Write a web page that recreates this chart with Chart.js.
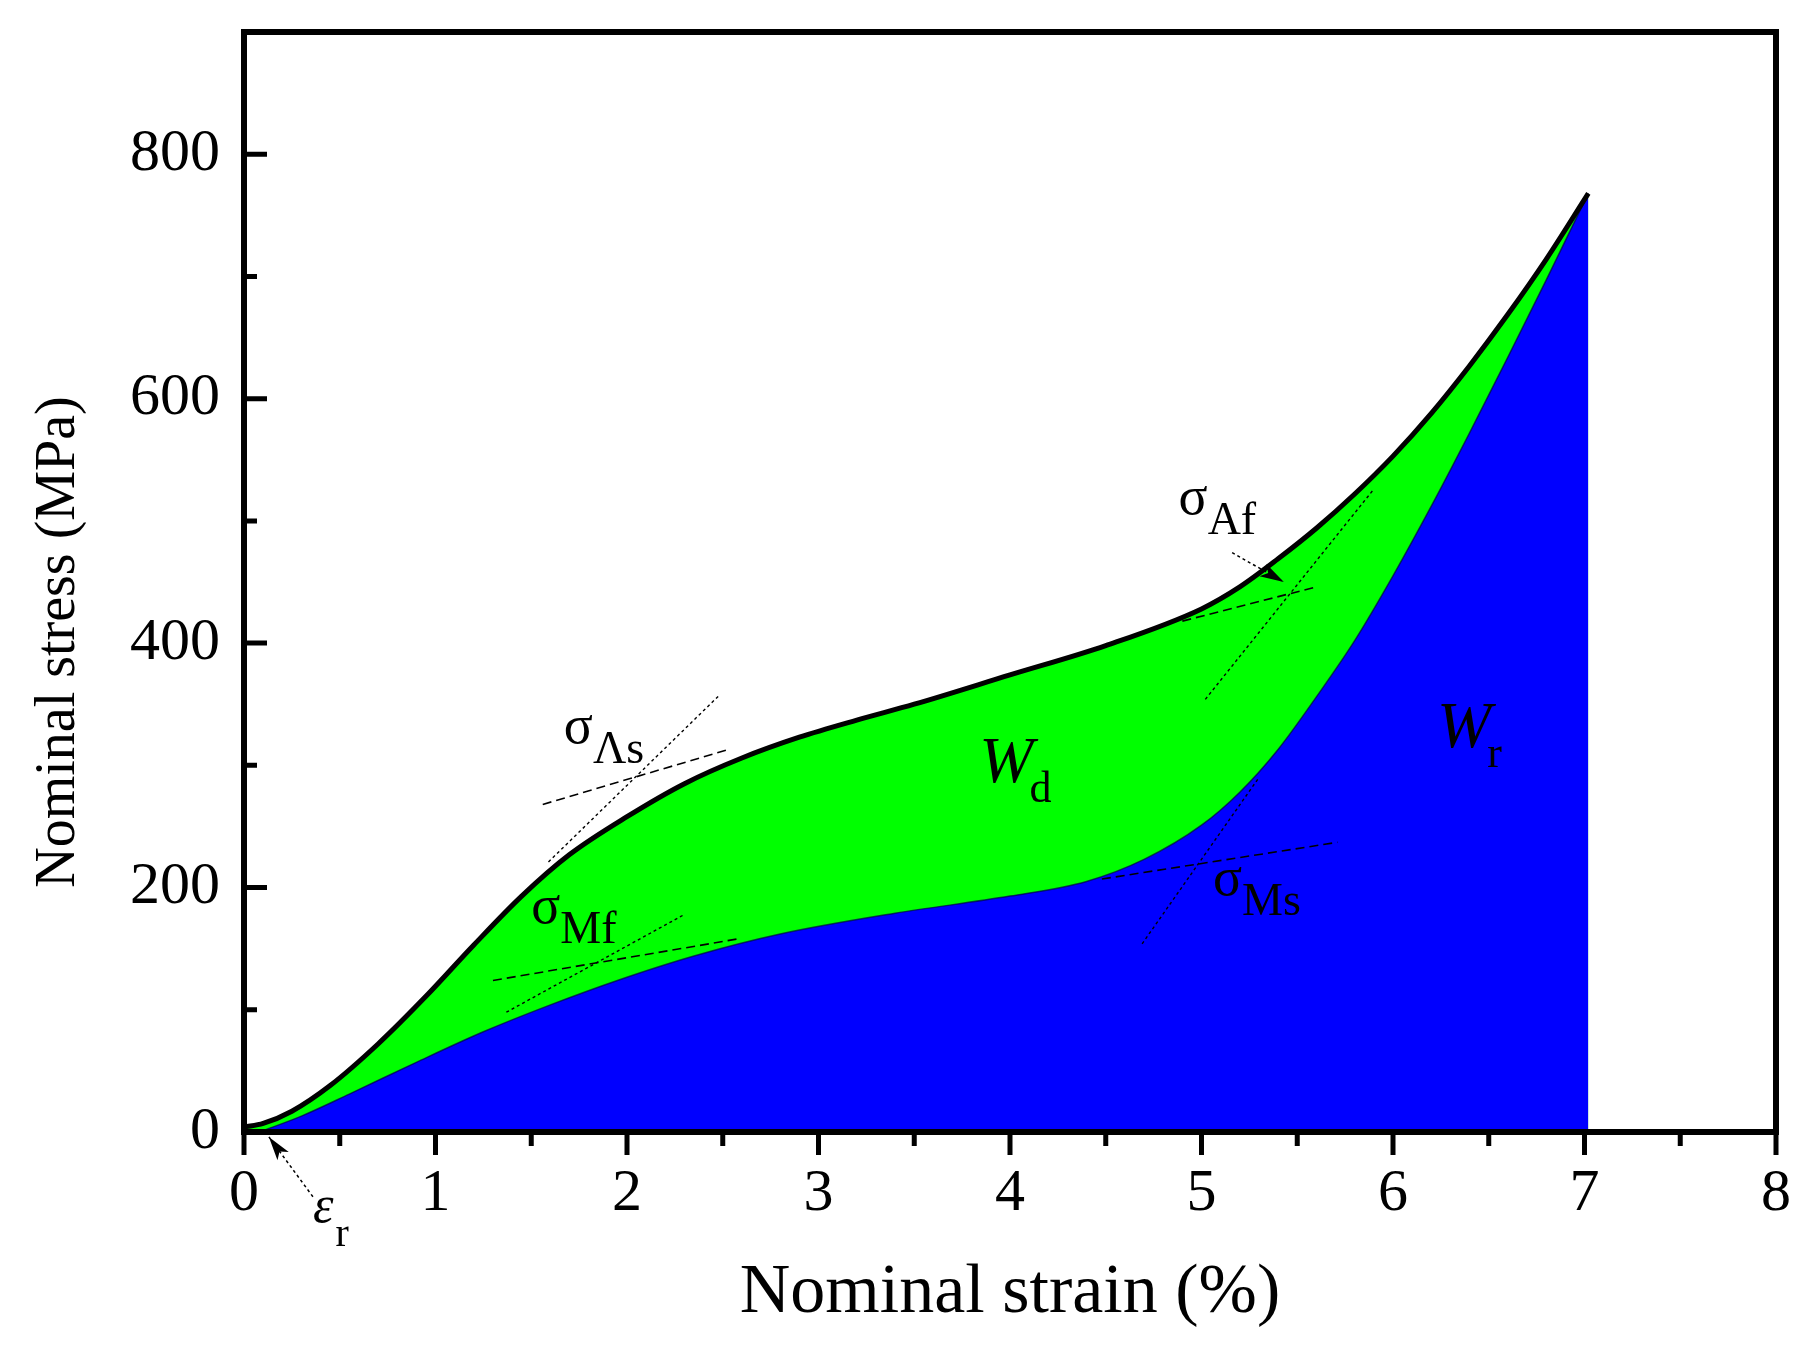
<!DOCTYPE html>
<html>
<head>
<meta charset="utf-8">
<script src="https://cdn.jsdelivr.net/npm/chart.js@4.4.0/dist/chart.umd.min.js"></script>
<style>
    html, body { margin: 0; padding: 0; background: #fff; }
    #wrap { width: 1808px; height: 1351px; }
</style>
</head>
<body>
<div id="wrap"><canvas id="chart-stress-strain" width="1808" height="1351"></canvas></div>
<script>
// loading branch (upper curve, black line)
const loadStrain = [0, 0.1, 0.25, 0.45, 0.7, 0.95, 1.2, 1.45, 1.7, 2.0, 2.3, 2.6, 2.9, 3.2, 3.5, 4.0, 4.5, 5.0, 5.2, 5.4, 5.6, 5.8, 6.0, 6.2, 6.4, 6.6, 6.8, 7.02];
const loadStress = [4, 7, 17, 38, 72, 111, 153, 193, 227, 258, 285, 306, 323, 337, 350, 374, 398, 428, 446, 469, 494, 522, 553, 588, 627, 669, 714, 768];

// unloading branch (green / blue boundary)
const unloadStrain = [0.08, 0.3, 0.55, 0.9, 1.25, 1.6, 1.95, 2.35, 2.8, 3.4, 4.0, 4.4, 4.7, 5.0, 5.2, 5.4, 5.6, 5.8, 6.0, 6.2, 6.4, 6.6, 6.8, 7.02];
const unloadStress = [0, 13, 31, 57, 82, 104, 124, 144, 162, 179, 193, 205, 223, 251, 278, 313, 356, 402, 455, 512, 572, 634, 697, 768];

// axis ticks
const xTickValues = [0, 1, 2, 3, 4, 5, 6, 7, 8];
const xMinorTicks = [0.5, 1.5, 2.5, 3.5, 4.5, 5.5, 6.5, 7.5];
const yTickValues = [0, 200, 400, 600, 800];
const yMinorTicks = [100, 300, 500, 700];

// tangent construction lines [start, end] in (strain, stress)
const shallowTangents = [
    [[1.56, 268], [2.53, 313]],
    [[1.30, 124], [2.58, 158]],
    [[4.90, 418], [5.60, 446]],
    [[4.48, 207], [5.71, 237]],
];
const steepTangents = [
    [[1.59, 221], [2.48, 357]],
    [[1.37, 98], [2.30, 178]],
    [[5.02, 354], [5.90, 526]],
    [[4.69, 154], [5.30, 290]],
];

// annotations
const stressLabels = [
    { sym: 'σ', sub: 'Λs', x: 1.67, y: 318 },
    { sym: 'σ', sub: 'Mf', x: 1.50, y: 171 },
    { sym: 'σ', sub: 'Af', x: 4.88, y: 506 },
    { sym: 'σ', sub: 'Ms', x: 5.06, y: 194 },
];
const energyLabels = [
    { sym: 'W', sub: 'd', x: 3.84, y: 286 },
    { sym: 'W', sub: 'r', x: 6.23, y: 315 },
];
const strainLabel = { sym: 'ε', sub: 'r', x: 0.36, y: -74 };
const arrows = [
    { from: [5.16, 474], to: [5.43, 450] },
    { from: [0.36, -53], to: [0.13, -4] },
];

const SERIF = '"Liberation Serif", "Times New Roman", serif';

const toPoints = (xs, ys) => xs.map((x, i) => ({ x: x, y: ys[i] }));
const segPoints = (seg) => seg.map(p => ({ x: p[0], y: p[1] }));

function drawSubText(ctx, px, py, sym, sub, symFont, subFont, gap, dy) {
    ctx.font = symFont;
    ctx.fillText(sym, px, py);
    let w = ctx.measureText(sym).width;
    ctx.font = subFont;
    ctx.fillText(sub, px + w + gap, py + dy);
}

function drawArrow(ctx, x0, y0, x1, y1) {
    ctx.save();
    ctx.lineWidth = 1.5;
    ctx.setLineDash([3, 3]);
    ctx.beginPath();
    ctx.moveTo(x0, y0);
    ctx.lineTo(x1, y1);
    ctx.stroke();
    ctx.setLineDash([]);
    let a = Math.atan2(y1 - y0, x1 - x0);
    ctx.translate(x1, y1);
    ctx.rotate(a);
    ctx.beginPath();
    ctx.moveTo(0, 0);
    ctx.lineTo(-24, -7);
    ctx.lineTo(-18, 0);
    ctx.lineTo(-24, 7);
    ctx.closePath();
    ctx.fill();
    ctx.restore();
}

const frameAndNotes = {
    id: 'frameAndNotes',
    afterDatasetsDraw(chart) {
        const { ctx, chartArea: a, scales: { x, y } } = chart;
        ctx.save();
        ctx.strokeStyle = '#000';
        ctx.fillStyle = '#000';

        // tick marks: x outward, y inward
        ctx.lineWidth = 5;
        ctx.beginPath();
        xTickValues.forEach(v => {
            let px = x.getPixelForValue(v);
            ctx.moveTo(px, a.bottom);
            ctx.lineTo(px, a.bottom + 23);
        });
        xMinorTicks.forEach(v => {
            let px = x.getPixelForValue(v);
            ctx.moveTo(px, a.bottom);
            ctx.lineTo(px, a.bottom + 14);
        });
        yTickValues.forEach(v => {
            let py = y.getPixelForValue(v);
            ctx.moveTo(a.left, py);
            ctx.lineTo(a.left + 23, py);
        });
        yMinorTicks.forEach(v => {
            let py = y.getPixelForValue(v);
            ctx.moveTo(a.left, py);
            ctx.lineTo(a.left + 13, py);
        });
        ctx.stroke();

        // frame
        ctx.lineWidth = 6;
        ctx.strokeRect(a.left, a.top, a.right - a.left, a.bottom - a.top);

        // labels
        ctx.textAlign = 'left';
        ctx.textBaseline = 'alphabetic';
        stressLabels.forEach(l => {
            drawSubText(ctx, x.getPixelForValue(l.x), y.getPixelForValue(l.y), l.sym, l.sub,
                '54px ' + SERIF, '46px ' + SERIF, 0, 20);
        });
        energyLabels.forEach(l => {
            drawSubText(ctx, x.getPixelForValue(l.x), y.getPixelForValue(l.y), l.sym, l.sub,
                'italic 65px ' + SERIF, '44px ' + SERIF, -4, 20);
        });
        drawSubText(ctx, x.getPixelForValue(strainLabel.x), y.getPixelForValue(strainLabel.y),
            strainLabel.sym, strainLabel.sub, 'italic 52px ' + SERIF, '40px ' + SERIF, 2, 24);

        arrows.forEach(ar => {
            drawArrow(ctx, x.getPixelForValue(ar.from[0]), y.getPixelForValue(ar.from[1]),
                x.getPixelForValue(ar.to[0]), y.getPixelForValue(ar.to[1]));
        });

        // y axis title
        ctx.save();
        ctx.translate(59, (a.top + a.bottom) / 2 + 60);
        ctx.rotate(-Math.PI / 2);
        ctx.textAlign = 'center';
        ctx.textBaseline = 'middle';
        ctx.font = '56px ' + SERIF;
        ctx.fillText('Nominal stress (MPa)', 0, 0);
        ctx.restore();

        ctx.restore();
    },
};

const tangentSets = [];
shallowTangents.forEach(seg => tangentSets.push({
    data: segPoints(seg),
    borderColor: '#000',
    borderWidth: 1.6,
    borderDash: [9, 5],
    pointRadius: 0,
    fill: false,
    order: 2,
}));
steepTangents.forEach(seg => tangentSets.push({
    data: segPoints(seg),
    borderColor: '#000',
    borderWidth: 1.4,
    borderDash: [3, 3],
    pointRadius: 0,
    fill: false,
    order: 2,
}));

new Chart(document.getElementById('chart-stress-strain'), {
    type: 'line',
    data: {
        datasets: [
            {
                label: 'Loading',
                data: toPoints(loadStrain, loadStress),
                borderColor: '#000',
                borderWidth: 5,
                cubicInterpolationMode: 'monotone',
                pointRadius: 0,
                fill: false,
                order: 1,
            },
            ...tangentSets,
            {
                label: 'Wr',
                data: toPoints(unloadStrain, unloadStress),
                borderColor: 'rgba(0, 0, 70, 0.7)',
                borderWidth: 1.5,
                backgroundColor: '#0000ff',
                cubicInterpolationMode: 'monotone',
                pointRadius: 0,
                fill: 'origin',
                order: 3,
            },
            {
                label: 'Wd',
                data: toPoints(loadStrain, loadStress),
                borderColor: 'rgba(0, 0, 0, 0)',
                borderWidth: 1,
                backgroundColor: '#00ff00',
                cubicInterpolationMode: 'monotone',
                pointRadius: 0,
                fill: 'origin',
                order: 4,
            },
        ],
    },
    options: {
        responsive: false,
        animation: false,
        devicePixelRatio: 1,
        layout: { padding: { left: 0, top: 32, right: 32, bottom: 0 } },
        plugins: {
            legend: { display: false },
            tooltip: { enabled: false },
        },
        scales: {
            x: {
                type: 'linear',
                min: 0,
                max: 8,
                grid: { display: false, drawTicks: false },
                border: { display: false },
                ticks: {
                    padding: 26,
                    color: '#000',
                    font: { family: SERIF, size: 60 },
                },
                afterBuildTicks: (scale) => {
                    scale.ticks = xTickValues.map(v => ({ value: v }));
                },
                afterFit: (scale) => {
                    scale.height = 219;
                    scale.paddingLeft = 0;
                    scale.paddingRight = 0;
                },
                title: {
                    display: true,
                    text: 'Nominal strain (%)',
                    color: '#000',
                    font: { family: SERIF, size: 70 },
                    padding: { top: 0, bottom: 15 },
                },
            },
            y: {
                min: 0,
                max: 900,
                grid: { display: false, drawTicks: false },
                border: { display: false },
                ticks: {
                    padding: 24,
                    color: '#000',
                    font: { family: SERIF, size: 60 },
                },
                afterBuildTicks: (scale) => {
                    scale.ticks = yTickValues.map(v => ({ value: v }));
                },
                afterFit: (scale) => {
                    scale.width = 244;
                    scale.paddingTop = 0;
                    scale.paddingBottom = 0;
                },
            },
        },
    },
    plugins: [frameAndNotes],
});
</script>
</body>
</html>
